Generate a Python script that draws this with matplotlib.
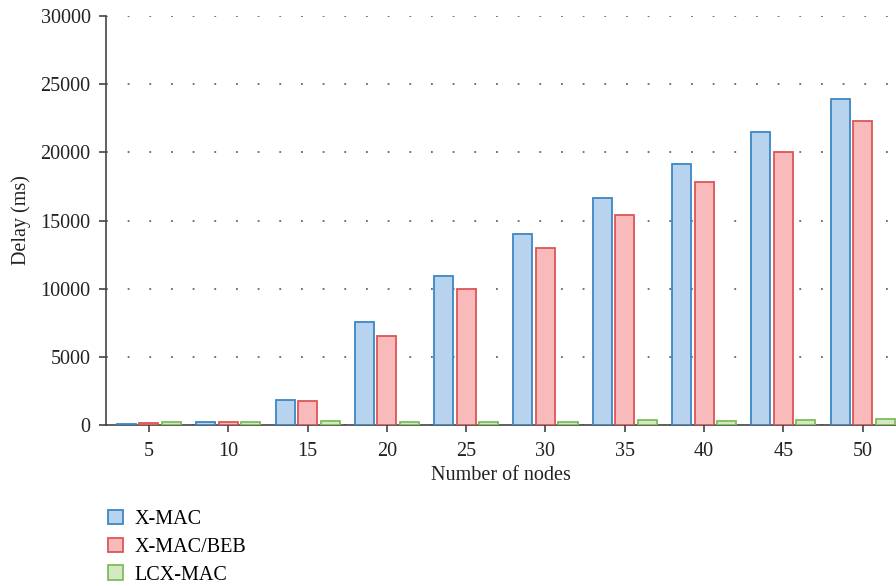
import numpy as np
import matplotlib.pyplot as plt

plt.rcParams['font.family'] = ['Liberation Serif', 'DejaVu Serif']

nodes = ['5', '10', '15', '20', '25', '30', '35', '40', '45', '50']
xmac = [100, 200, 1850, 7550, 10950, 14000, 16620, 19150, 21460, 23890]
xmac_beb = [150, 250, 1780, 6550, 10000, 12950, 15430, 17850, 20050, 22300]
lcxmac = [250, 250, 320, 250, 250, 220, 370, 330, 370, 460]

series = [
    ('X-MAC', xmac, '#b8d3ee', '#3b87c4'),
    ('X-MAC/BEB', xmac_beb, '#f8baba', '#de5555'),
    ('LCX-MAC', lcxmac, '#d4e9c2', '#7dbd5a'),
]

fig = plt.figure(figsize=(8.96, 5.86), dpi=100)
ax = fig.add_axes([0.1183, 0.2747, 0.8817, 0.698])

x = np.arange(len(nodes))
width = 0.24
offset = 0.284
for i, (name, vals, fc, ec) in enumerate(series):
    ax.bar(x + (i - 1) * offset, vals, width, color=fc, edgecolor=ec,
           linewidth=1.3, label=name, zorder=3)

ax.set_xlim(-0.542, 9.42)
ax.set_ylim(0, 30000)
ax.set_xticks(x)
ax.set_xticklabels(nodes)
ax.set_yticks(range(0, 30001, 5000))
ax.yaxis.grid(True, linestyle=(0, (1, 11)), color='#666666', linewidth=1.3, zorder=0)
ax.set_axisbelow(True)

for s in ['top', 'right']:
    ax.spines[s].set_visible(False)
for s in ['left', 'bottom']:
    ax.spines[s].set_color('#444444')
    ax.spines[s].set_linewidth(1.2)
ax.tick_params(axis='both', labelsize=14.5, color='#444444', length=5, width=1.2,
               labelcolor='#222222')
ax.tick_params(axis='y', pad=6)
ax.tick_params(axis='x', pad=7)

ax.set_xlabel('Number of nodes', fontsize=14.5, color='#222222', labelpad=4)
ax.set_ylabel('Delay (ms)', fontsize=14.5, color='#222222', labelpad=7)

handles, labels = ax.get_legend_handles_labels()
fig.legend(handles, labels, loc='upper left', bbox_to_anchor=(0.111, 0.144),
           frameon=False, fontsize=14.5, handlelength=0.75, handleheight=0.75,
           labelspacing=0.42, handletextpad=0.6, borderaxespad=0)

fig.savefig('out.png', dpi=100)
